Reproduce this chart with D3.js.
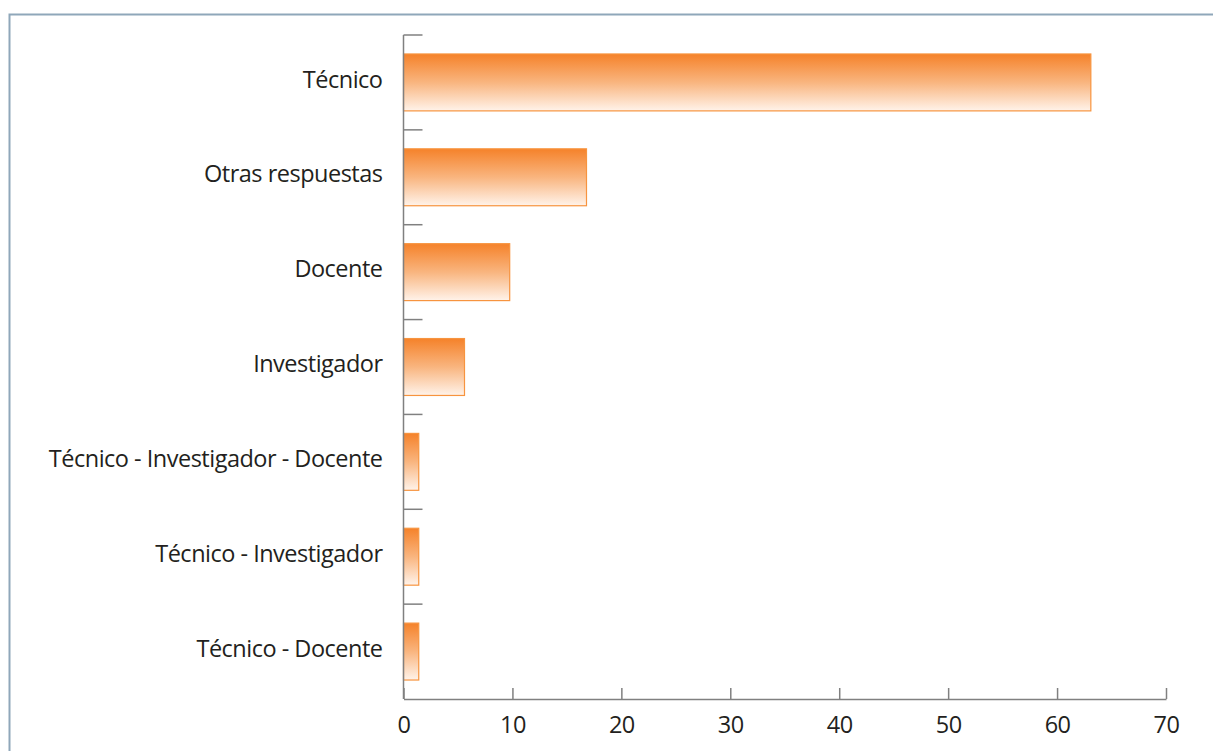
<!DOCTYPE html>
<html>
<head>
<meta charset="utf-8">
<script src="https://cdn.jsdelivr.net/npm/d3@7"></script>
<style>
  body { margin: 0; background: #fff; }
  svg { display: block; }
</style>
</head>
<body>
<script>
// Categories, top to bottom
const categories = [
  "Técnico",
  "Otras respuestas",
  "Docente",
  "Investigador",
  "Técnico - Investigador - Docente",
  "Técnico - Investigador",
  "Técnico - Docente"
];
const values = [63.1, 16.8, 9.75, 5.6, 1.4, 1.4, 1.4];
const xTicks = [0, 10, 20, 30, 40, 50, 60, 70];

const data = categories.map((c, i) => ({ name: c, value: values[i] }));

const width = 1213;
const height = 751;
const marginTop = 35;
const marginLeft = 403.5;
const marginRight = 47;
const marginBottom = 52;

const svg = d3.select("body").append("svg")
    .attr("width", width)
    .attr("height", height)
    .attr("viewBox", [0, 0, width, height]);

// gradient used for every bar
const grad = svg.append("defs").append("linearGradient")
    .attr("id", "barGrad")
    .attr("x1", 0).attr("y1", 0).attr("x2", 0).attr("y2", 1);
grad.append("stop").attr("offset", "0%").attr("stop-color", "#f5822a");
grad.append("stop").attr("offset", "50%").attr("stop-color", "#f9b57f");
grad.append("stop").attr("offset", "100%").attr("stop-color", "#fff3ea");

// frame (top and left edges only)
svg.append("path")
    .attr("d", `M9.5,${height}V14.5H${width}`)
    .attr("fill", "none")
    .attr("stroke", "#8fa7ba")
    .attr("stroke-width", 2);

const x = d3.scaleLinear()
    .domain([0, 70])
    .range([marginLeft, width - marginRight]);

const y = d3.scaleBand()
    .domain(categories)
    .range([marginTop, height - marginBottom])
    .paddingInner(0.4)
    .paddingOuter(0.2);

// bars
svg.append("g")
  .selectAll("rect")
  .data(data)
  .join("rect")
    .attr("x", x(0))
    .attr("y", d => y(d.name))
    .attr("width", d => x(d.value) - x(0))
    .attr("height", y.bandwidth())
    .attr("fill", "url(#barGrad)")
    .attr("stroke", "#f7943f")
    .attr("stroke-width", 1.2);

// left axis: category separators
const step = y.step();
const sep = d3.range(categories.length + 1).map(i => marginTop + i * step);
svg.append("g")
  .selectAll("line")
  .data(sep.slice(0, -1))
  .join("line")
    .attr("x1", x(0)).attr("x2", x(0) + 19)
    .attr("y1", d => d).attr("y2", d => d)
    .attr("stroke", "#808080")
    .attr("stroke-width", 1.5);

svg.append("line")
    .attr("x1", x(0)).attr("x2", x(0))
    .attr("y1", marginTop).attr("y2", height - marginBottom)
    .attr("stroke", "#808080")
    .attr("stroke-width", 1.5);

// category labels
svg.append("g")
    .attr("font-family", "'Open Sans', sans-serif")
    .attr("font-size", 23.5)
    .attr("fill", "#231f20")
  .selectAll("text")
  .data(categories)
  .join("text")
    .attr("x", x(0) - 21)
    .attr("y", d => y(d) + y.bandwidth() / 2)
    .attr("dy", "0.22em")
    .attr("text-anchor", "end")
    .attr("letter-spacing", -0.5)
    .text(d => d);

// bottom axis, ticks pointing up
svg.append("g")
    .attr("transform", `translate(0,${height - marginBottom})`)
    .call(d3.axisBottom(x).tickValues(xTicks).tickSize(-11).tickSizeOuter(0).tickPadding(17))
    .call(g => g.select(".domain").attr("stroke", "#808080").attr("stroke-width", 1.5))
    .call(g => g.selectAll(".tick line").attr("stroke", "#808080").attr("stroke-width", 1.5))
    .call(g => g.selectAll(".tick text")
        .attr("font-family", "'Open Sans', sans-serif")
        .attr("font-size", 23.5)
        .attr("letter-spacing", -0.5)
        .attr("fill", "#231f20"));
</script>
</body>
</html>
